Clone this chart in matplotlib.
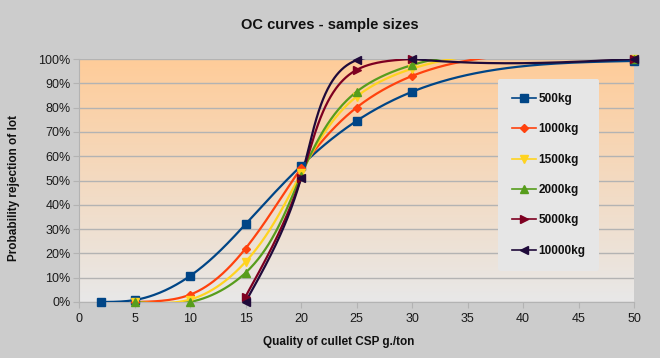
import numpy as np
import matplotlib
matplotlib.use("Agg")
import matplotlib.pyplot as plt
from matplotlib.lines import Line2D
from matplotlib.ticker import PercentFormatter

# ---- data (x = CSP g./ton, y = rejection probability %) ----
labels = ['500kg', '1000kg', '1500kg', '2000kg', '5000kg', '10000kg']
x_500 = [2, 5, 10, 15, 20, 25, 30, 50]
y_500 = [0, 0.8, 10.7, 32, 56, 74.5, 86.5, 99.2]
x_1000 = [5, 10, 15, 20, 25, 30, 50]
y_1000 = [0, 3, 22, 55, 80, 93, 100]
x_1500 = [5, 10, 15, 20, 25, 30, 50]
y_1500 = [0, 1, 16.5, 53, 84.5, 96, 100]
x_2000 = [5, 10, 15, 20, 25, 30, 50]
y_2000 = [0, 0, 12, 52, 86.5, 97.5, 100]
x_5000 = [15, 20, 25, 30, 50]
y_5000 = [2.2, 51, 95.5, 100, 100]
x_10000 = [15, 20, 25, 30, 50]
y_10000 = [0, 51, 99.5, 100, 100]

xs = [x_500, x_1000, x_1500, x_2000, x_5000, x_10000]
ys = [y_500, y_1000, y_1500, y_2000, y_5000, y_10000]
colors = ['#004586', '#ff420e', '#ffd320', '#579d1c', '#7e0021', '#1f0a3a']
markers = ['s', 'D', 'v', '^', '>', '<']
msizes = [6, 4.5, 6, 6, 6, 6]


def nat_spline_1d(t, v, tt):
    k = len(t)
    h = np.diff(t)
    A = np.zeros((k, k))
    b = np.zeros(k)
    A[0, 0] = A[-1, -1] = 1
    for i in range(1, k - 1):
        A[i, i - 1] = h[i - 1]
        A[i, i] = 2 * (h[i - 1] + h[i])
        A[i, i + 1] = h[i]
        b[i] = 6 * ((v[i + 1] - v[i]) / h[i] - (v[i] - v[i - 1]) / h[i - 1])
    M = np.linalg.solve(A, b)
    idx = np.clip(np.searchsorted(t, tt) - 1, 0, k - 2)
    t0, t1 = t[idx], t[idx + 1]
    hh = t1 - t0
    a0, a1 = t1 - tt, tt - t0
    return (M[idx] * a0 ** 3 + M[idx + 1] * a1 ** 3) / (6 * hh) \
        + (v[idx] / hh - M[idx] * hh / 6) * a0 + (v[idx + 1] / hh - M[idx + 1] * hh / 6) * a1


def smooth(x, y, n=400):
    # parametric cubic spline (chord length in screen units), like spreadsheet smoothing
    x = np.asarray(x, float)
    y = np.asarray(y, float)
    px, py = x * 11.1, y * 2.43
    t = np.concatenate([[0], np.cumsum(np.hypot(np.diff(px), np.diff(py)))])
    tt = np.linspace(0, t[-1], n)
    return nat_spline_1d(t, x, tt), nat_spline_1d(t, y, tt)


plt.rcParams['font.family'] = ['Liberation Sans', 'DejaVu Sans']
fig = plt.figure(figsize=(6.6, 3.58), dpi=100)
fig.patch.set_facecolor('#cccccc')
ax = fig.add_axes([79 / 660, 1 - 302 / 358, (634 - 79) / 660, (302 - 59) / 358])

# gradient background of the plot area
grad = np.linspace(0, 1, 256).reshape(-1, 1)
top = np.array([255, 204, 153]) / 255
bot = np.array([232, 232, 232]) / 255
img = top[None, None, :] * (1 - grad[:, :, None]) + bot[None, None, :] * grad[:, :, None]
ax.imshow(img, extent=[0, 1, 0, 1], transform=ax.transAxes, aspect='auto', zorder=0)

ax.set_xlim(0, 50)
ax.set_ylim(0, 100)
ax.set_yticks(np.arange(0, 101, 10))
ax.set_xticks(np.arange(0, 51, 5))
ax.yaxis.set_major_formatter(PercentFormatter(decimals=0))
ax.grid(axis='y', color='#b3b3b3', linewidth=1)
ax.set_axisbelow(False)
for s in ['top', 'right']:
    ax.spines[s].set_visible(False)
for s in ['left', 'bottom']:
    ax.spines[s].set_color('#b3b3b3')
ax.tick_params(colors='#b3b3b3', labelcolor='#1a1a1a', labelsize=9, length=4)
ax.tick_params(axis='x', pad=4)
ax.tick_params(axis='y', pad=2)

handles = []
for x, y, c, m, ms, lab in zip(xs, ys, colors, markers, msizes, labels):
    sx, sy = smooth(x, y)
    ax.plot(sx, sy, color=c, linewidth=1.6, zorder=3)
    ax.plot(x, y, linestyle='none', marker=m, markersize=ms, color=c, clip_on=False, zorder=4)
    handles.append(Line2D([], [], color=c, marker=m, markersize=ms, linewidth=1.2, label=lab))

leg = ax.legend(handles=handles, loc='upper left', bbox_to_anchor=((498 - 79) / 555, 1 - (79 - 59) / 243),
                frameon=True, fontsize=8.5, labelspacing=1.55, handlelength=2.0, handletextpad=0.2,
                borderpad=1.2, borderaxespad=0)
leg.get_frame().set_facecolor('#e6e6e6')
leg.get_frame().set_edgecolor('none')
leg.get_frame().set_alpha(1)
for t in leg.get_texts():
    t.set_fontweight('bold')
    t.set_color('#111111')

fig.text(330 / 660, 1 - 25 / 358, 'OC curves - sample sizes', ha='center', va='center',
         fontsize=10.5, fontweight='bold', color='#111111')
fig.text(339 / 660, 1 - 342 / 358, 'Quality of cullet CSP g./ton', ha='center', va='center',
         fontsize=8.5, fontweight='bold', color='#111111')
fig.text(14 / 660, 1 - 188 / 358, 'Probability rejection of lot', ha='center', va='center',
         rotation=90, fontsize=8.5, fontweight='bold', color='#111111')

fig.savefig('out.png', dpi=100, facecolor=fig.get_facecolor())
